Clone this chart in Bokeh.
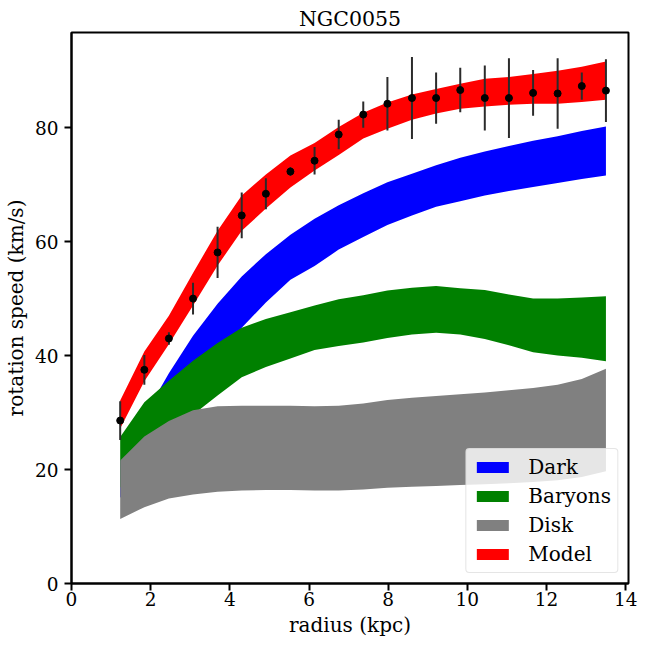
from bokeh.plotting import figure
from bokeh.models import ColumnDataSource, Range1d, FixedTicker
from bokeh.embed import file_html
from bokeh.resources import INLINE

# ---- data ----
radius = [1.23, 1.84, 2.46, 3.07, 3.69, 4.30, 4.91, 5.53, 6.14, 6.75, 7.37,
          7.98, 8.60, 9.21, 9.82, 10.44, 11.05, 11.66, 12.28, 12.89, 13.50]
v_obs = [28.6, 37.5, 43.0, 50.0, 58.1, 64.6, 68.4, 72.3, 74.2, 78.8, 82.3,
         84.2, 85.2, 85.2, 86.6, 85.2, 85.2, 86.1, 86.0, 87.3, 86.5]
v_err = [3.4, 2.6, 1.1, 2.8, 4.5, 4.0, 2.7, 0.8, 2.4, 2.6, 2.3,
         4.7, 7.2, 4.5, 3.9, 5.7, 7.0, 4.0, 6.2, 2.4, 5.5]

dark_lo = [15.0, 22.0, 28.0, 33.5, 39.6, 44.9, 49.3, 53.3, 55.7, 58.6, 60.8,
           62.9, 64.6, 66.1, 67.1, 68.1, 68.9, 69.6, 70.3, 71.0, 71.6]
dark_hi = [21.5, 29.4, 36.9, 43.5, 49.1, 53.9, 57.8, 61.2, 64.0, 66.4, 68.5,
           70.4, 71.9, 73.4, 74.7, 75.8, 76.8, 77.7, 78.5, 79.4, 80.2]

baryon_lo = [16.8, 21.0, 25.4, 29.6, 33.0, 36.2, 38.0, 39.5, 41.0, 41.7, 42.3,
             43.1, 43.7, 44.0, 43.7, 42.9, 41.8, 40.6, 40.0, 39.6, 39.0]
baryon_hi = [25.7, 31.8, 35.6, 39.1, 42.2, 44.9, 46.4, 47.6, 48.8, 49.9, 50.6,
             51.4, 51.9, 52.2, 51.8, 51.5, 50.7, 50.0, 50.0, 50.2, 50.4]

disk_lo = [11.3, 13.4, 14.9, 15.6, 16.1, 16.3, 16.4, 16.4, 16.3, 16.3, 16.5,
           16.8, 17.0, 17.1, 17.3, 17.4, 17.6, 17.8, 18.1, 18.7, 19.7]
disk_hi = [21.6, 25.8, 28.5, 30.4, 31.1, 31.2, 31.2, 31.2, 31.1, 31.2, 31.6,
           32.2, 32.6, 32.9, 33.2, 33.5, 33.9, 34.3, 34.9, 35.9, 37.7]

model_lo = [27.2, 35.5, 42.0, 48.8, 55.8, 61.9, 65.8, 69.5, 72.5, 75.2, 78.1,
            79.8, 81.4, 82.5, 83.3, 83.7, 84.0, 84.2, 84.2, 84.5, 84.9]
model_hi = [32.1, 40.7, 47.0, 54.5, 61.9, 68.1, 71.8, 75.1, 77.3, 80.1, 82.6,
            84.4, 85.8, 86.8, 87.7, 88.6, 88.9, 89.4, 90.0, 90.7, 91.6]

x_ticks = [0, 2, 4, 6, 8, 10, 12, 14]
y_ticks = [0, 20, 40, 60, 80]

FONT = "DejaVu Serif"

p = figure(width=648, height=648, output_backend="svg", toolbar_location=None,
           x_range=Range1d(0, 14.07), y_range=Range1d(0, 96.7),
           title="NGC0055",
           min_border_left=71, min_border_right=20,
           min_border_top=32, min_border_bottom=65)

p.varea(x=radius, y1=dark_lo, y2=dark_hi, fill_color="#0000ff", legend_label="Dark")
p.varea(x=radius, y1=baryon_lo, y2=baryon_hi, fill_color="#008000", legend_label="Baryons")
p.varea(x=radius, y1=disk_lo, y2=disk_hi, fill_color="#808080", legend_label="Disk")
p.varea(x=radius, y1=model_lo, y2=model_hi, fill_color="#ff0000", legend_label="Model")

err_src = ColumnDataSource(dict(
    x=radius,
    lo=[v - e for v, e in zip(v_obs, v_err)],
    hi=[v + e for v, e in zip(v_obs, v_err)],
))
p.segment(x0="x", y0="lo", x1="x", y1="hi", source=err_src,
          line_color="#2b2b2b", line_width=2)
p.scatter(x=radius, y=v_obs, size=7, color="black")

p.xgrid.visible = False
p.ygrid.visible = False
p.xaxis.ticker = FixedTicker(ticks=x_ticks)
p.yaxis.ticker = FixedTicker(ticks=y_ticks)
p.xaxis.axis_label = "radius (kpc)"
p.yaxis.axis_label = "rotation speed (km/s)"
for ax in (p.xaxis, p.yaxis):
    ax.major_label_text_font = FONT
    ax.major_label_text_font_size = "18.5px"
    ax.major_label_text_color = "black"
    ax.axis_label_text_font = FONT
    ax.axis_label_text_font_size = "20px"
    ax.axis_label_text_font_style = "normal"
    ax.axis_label_text_color = "black"
    ax.minor_tick_line_color = None
    ax.major_tick_in = 0
    ax.major_tick_out = 7
    ax.major_tick_line_width = 2
    ax.major_tick_line_color = "black"
    ax.axis_line_width = 2
    ax.axis_line_color = "black"
p.xaxis.major_label_standoff = 1
p.xaxis.axis_label_standoff = 4
p.yaxis.major_label_standoff = 6
p.yaxis.axis_label_standoff = 4

p.outline_line_color = "black"
p.outline_line_width = 2
p.outline_line_alpha = 1.0

p.title.text_font = FONT
p.title.text_font_size = "20.5px"
p.title.text_font_style = "normal"
p.title.text_color = "black"
p.title.align = "center"
p.title.standoff = 3

lg = p.legend[0]
lg.location = "bottom_right"
lg.label_text_font = FONT
lg.label_text_font_size = "20px"
lg.label_text_color = "black"
lg.glyph_width = 40
lg.glyph_height = 14
lg.label_standoff = 16
lg.label_height = 20
lg.padding = 6
lg.spacing = 5
lg.margin = 10
lg.border_line_color = "#cccccc"
lg.border_line_width = 1
lg.background_fill_alpha = 0.8
if "border_radius" in lg.properties():
    lg.border_radius = 4

open("out.html", "w").write(file_html(p, INLINE))
